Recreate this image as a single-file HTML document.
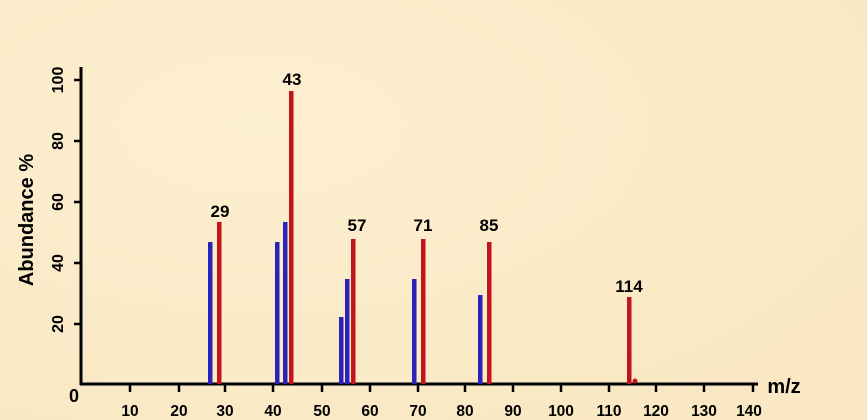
<!DOCTYPE html>
<html><head><meta charset="utf-8"><style>
html,body{margin:0;padding:0;background:#fbecc9;}
svg{display:block;font-family:"Liberation Sans",Arial,sans-serif;font-weight:bold;}
</style></head><body>
<svg width="867" height="420" viewBox="0 0 867 420" xmlns="http://www.w3.org/2000/svg">
<defs>
<radialGradient id="g1" cx="0.3" cy="0.3" r="0.8"><stop offset="0" stop-color="#fcefd0"/><stop offset="1" stop-color="#f9e8c3"/></radialGradient>
</defs>
<rect width="867" height="420" fill="url(#g1)"/>
<line x1="81" y1="67" x2="81" y2="385" stroke="#000" stroke-width="3"/>
<line x1="80" y1="384" x2="758" y2="384" stroke="#000" stroke-width="3"/>
<g stroke="#000" stroke-width="2.5">
<line x1="74" y1="80" x2="81" y2="80"/>
<line x1="74" y1="141" x2="81" y2="141"/>
<line x1="74" y1="202" x2="81" y2="202"/>
<line x1="74" y1="263" x2="81" y2="263"/>
<line x1="74" y1="324" x2="81" y2="324"/>
<line x1="130" y1="384" x2="130" y2="392"/>
<line x1="179" y1="384" x2="179" y2="392"/>
<line x1="225" y1="384" x2="225" y2="392"/>
<line x1="273" y1="384" x2="273" y2="392"/>
<line x1="322" y1="384" x2="322" y2="392"/>
<line x1="370" y1="384" x2="370" y2="392"/>
<line x1="418" y1="384" x2="418" y2="392"/>
<line x1="465" y1="384" x2="465" y2="392"/>
<line x1="513" y1="384" x2="513" y2="392"/>
<line x1="561" y1="384" x2="561" y2="392"/>
<line x1="609" y1="384" x2="609" y2="392"/>
<line x1="656" y1="384" x2="656" y2="392"/>
<line x1="704" y1="384" x2="704" y2="392"/>
<line x1="753" y1="384" x2="753" y2="392"/>
</g>
<g font-size="16" text-anchor="middle">
<text transform="translate(63,80) rotate(-90)">100</text>
<text transform="translate(63,141) rotate(-90)">80</text>
<text transform="translate(63,202) rotate(-90)">60</text>
<text transform="translate(63,263) rotate(-90)">40</text>
<text transform="translate(63,324) rotate(-90)">20</text>
</g>
<text transform="translate(33,220) rotate(-90)" font-size="20" text-anchor="middle">Abundance %</text>
<text x="74" y="402" font-size="18" text-anchor="middle">0</text>
<g font-size="15.5" text-anchor="middle">
<text x="130" y="416">10</text><text x="179" y="416">20</text><text x="225" y="416">30</text>
<text x="273" y="416">40</text><text x="322" y="416">50</text><text x="370" y="416">60</text>
<text x="418" y="416">70</text><text x="465" y="416">80</text><text x="513" y="416">90</text>
<text x="561" y="416">100</text><text x="609" y="416">110</text><text x="656" y="416">120</text>
<text x="704" y="416">130</text><text x="749" y="416">140</text>
</g>
<text x="784" y="393" font-size="20" text-anchor="middle">m/z</text>
<g fill="#2b22b8">
<rect x="208" y="242" width="4.5" height="142"/>
<rect x="275" y="242" width="4.5" height="142"/>
<rect x="283" y="222" width="4.5" height="162"/>
<rect x="339" y="317" width="4.5" height="67"/>
<rect x="345" y="279" width="4.5" height="105"/>
<rect x="412" y="279" width="4.5" height="105"/>
<rect x="478" y="295" width="4.5" height="89"/>
</g>
<g fill="#c2141c">
<rect x="217" y="222" width="4.5" height="162"/>
<rect x="289" y="91" width="4.5" height="293"/>
<rect x="351" y="239" width="4.5" height="145"/>
<rect x="421" y="239" width="4.5" height="145"/>
<rect x="487" y="242" width="4.5" height="142"/>
<rect x="627" y="297" width="4.5" height="87"/>
<circle cx="635" cy="381" r="2.5"/>
</g>
<g font-size="17" text-anchor="middle">
<text x="220" y="217">29</text>
<text x="292" y="85">43</text>
<text x="357" y="231">57</text>
<text x="423" y="231">71</text>
<text x="489" y="231">85</text>
<text x="629" y="292">114</text>
</g>
</svg>
</body></html>
